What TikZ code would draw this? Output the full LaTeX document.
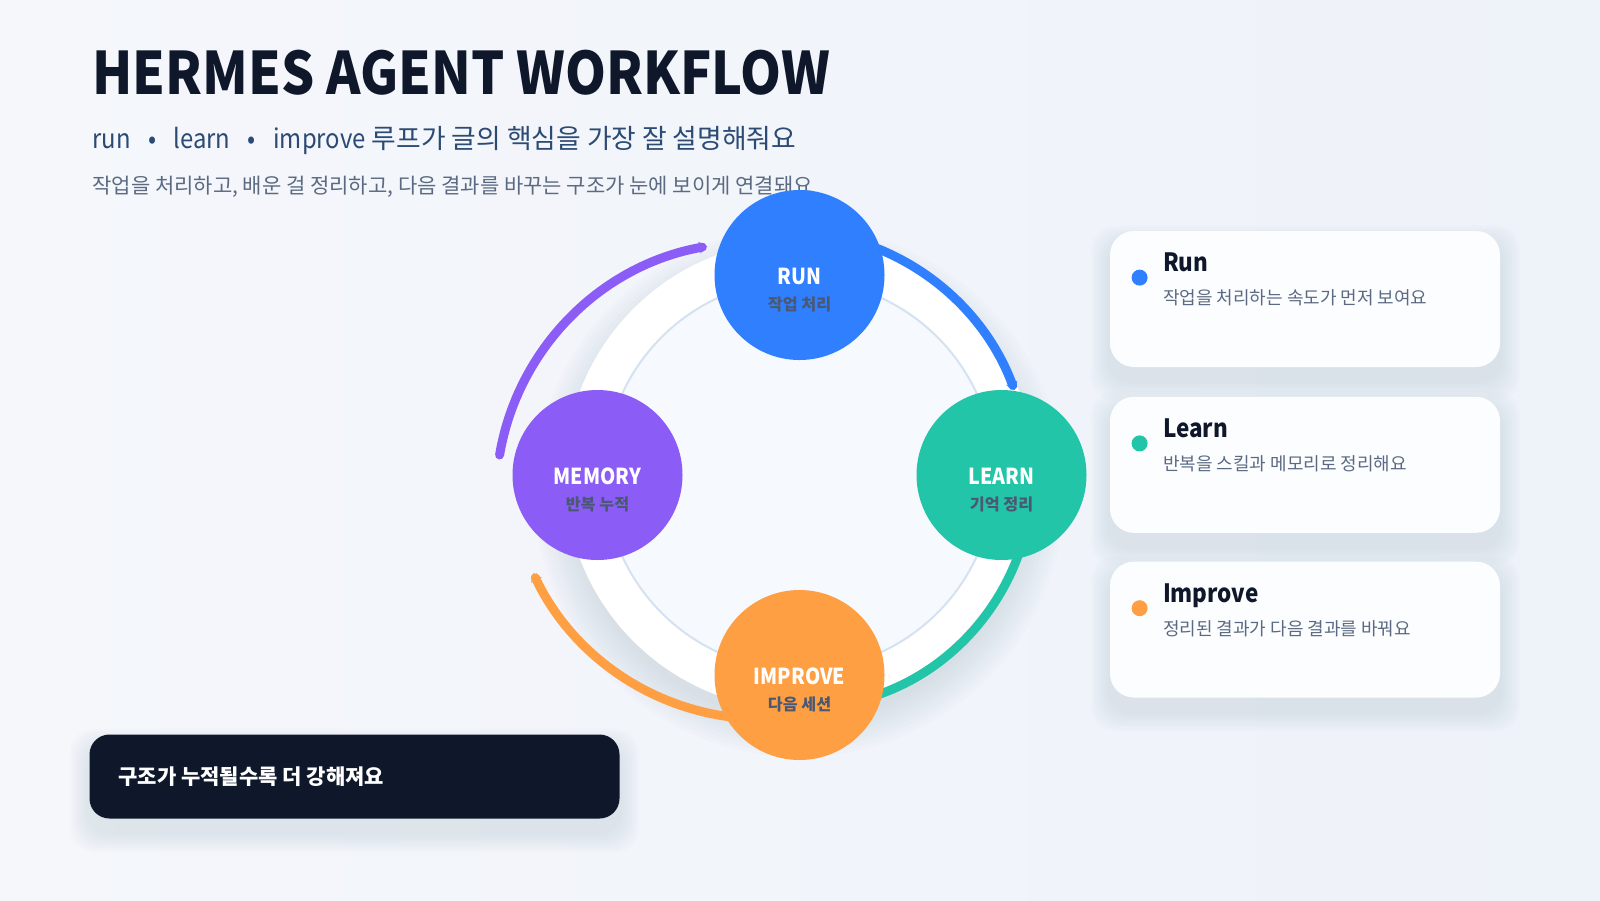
\documentclass[tikz,border=0pt]{standalone}
\usepackage{fontspec}
\setmainfont{Noto Sans CJK KR}
\newfontfamily\wlatin{Noto Sans CJK KR}[FakeStretch=0.89]
\usepackage{tikz}
\usetikzlibrary{arrows.meta,positioning,calc,backgrounds}
\pgfdeclarelayer{page}
\pgfsetlayers{page,background,main}
\definecolor{pagebg}{HTML}{F5F7FB}
\definecolor{pagebgr}{HTML}{EEF2F9}
\definecolor{inkdark}{HTML}{0F172A}
\definecolor{inksub}{HTML}{2B4A74}
\definecolor{inkmuted}{HTML}{5B6A82}
\definecolor{inklabel}{HTML}{4A5872}
\definecolor{runblue}{HTML}{2F7FFF}
\definecolor{learngreen}{HTML}{22C5A8}
\definecolor{improveorange}{HTML}{FF9F43}
\definecolor{memorypurple}{HTML}{8B5CF6}
\definecolor{ringline}{HTML}{D5E2F1}
\definecolor{innerfill}{HTML}{F6F9FE}
\definecolor{shadowink}{HTML}{7B8BA8}
\definecolor{cardfill}{HTML}{FCFDFF}
\newcommand{\wsep}{\hspace{0.65em}}
\tikzset{
  % ---- heading --------------------------------------------------------
  wtext/.style={inner sep=0pt, anchor=base west},
  wheading/.style={wtext, font=\wlatin\bfseries\fontsize{29.3}{35}\selectfont, text=inkdark},
  wtagline/.style={wtext, font=\fontsize{13.4}{16}\selectfont, text=inksub},
  wlede/.style={wtext, font=\fontsize{10.5}{13}\selectfont, text=inkmuted},
  % ---- loop stages ----------------------------------------------------
  wstage/.style={circle, minimum size=85pt, inner sep=0pt},
  wname/.style={inner sep=0pt, anchor=base, text=white,
    font=\wlatin\bfseries\fontsize{11}{13}\selectfont},
  wsub/.style={inner sep=0pt, anchor=base, text=inklabel,
    font=\bfseries\fontsize{8.1}{10}\selectfont},
  warc/.style={line width=4.5pt, line cap=round,
    -{Stealth[length=4pt,width=6pt]}},
  % ---- side cards -----------------------------------------------------
  wcard/.style={rounded corners=12pt, fill=cardfill, inner sep=0pt,
    minimum width=195pt, minimum height=68pt},
  wdot/.style={circle, minimum size=8pt, inner sep=0pt},
  wtitle/.style={wtext, font=\wlatin\bfseries\fontsize{12.6}{15}\selectfont, text=inkdark},
  wdesc/.style={wtext, font=\fontsize{9}{11}\selectfont, text=inkmuted},
  % ---- footer note ----------------------------------------------------
  wnote/.style={rounded corners=10pt, fill=inkdark, inner sep=0pt,
    minimum width=265pt, minimum height=42pt},
  wnotetext/.style={inner sep=0pt, anchor=west, text=white,
    font=\bfseries\fontsize{10.5}{13}\selectfont},
}
\begin{document}
\begin{tikzpicture}[x=0.5pt, y=-0.5pt]

% ---- page -------------------------------------------------------------
\begin{pgfonlayer}{page}
  \shade[left color=pagebg, right color=pagebgr] (0,0) rectangle (1600,900);
\end{pgfonlayer}
\useasboundingbox (0,0) rectangle (1600,900);

% ---- heading ----------------------------------------------------------
\node[wheading] (title) at (92,94) {HERMES AGENT WORKFLOW};
\node[wtagline] (tagline) at (92,148)
  {{\wlatin run\wsep•\wsep learn\wsep•\wsep improve} 루프가 글의 핵심을 가장 잘 설명해줘요};
\node[wlede] (lede) at (92,193)
  {작업을 처리하고, 배운 걸 정리하고, 다음 결과를 바꾸는 구조가 눈에 보이게 연결돼요};

% ---- ring -------------------------------------------------------------
\coordinate (hub) at (799.5,475);
\fill[white] (hub) circle[radius=235];
\filldraw[fill=innerfill, draw=ringline, line width=1pt] (hub) circle[radius=195];

% ---- arcs between stages ---------------------------------------------
\coordinate (runout)     at ($(787,473)+(-72:242)$);
\coordinate (learnout)   at ($(hub)+(18:233)$);
\coordinate (improveout) at ($(763,465)+(95:254)$);
\coordinate (memoryout)  at ($(751,497.5)+(-170.4:255)$);

\draw[warc, runblue]       (runout)     arc[start angle=-72, end angle=-20, radius=242];
\draw[warc, learngreen]    (learnout)   arc[start angle=18, end angle=75, radius=233];
\draw[warc, improveorange] (improveout) arc[start angle=95, end angle=154.8, radius=254];
\draw[warc, memorypurple]  (memoryout)  arc[start angle=-170.4, end angle=-99.9, radius=255];

% ---- stages -----------------------------------------------------------
\node[wstage, fill=runblue]       (run)     at (799.5,275) {};
\node[wstage, fill=learngreen]    (learn)   at (1001.5,475) {};
\node[wstage, fill=improveorange] (improve) at (799.5,675) {};
\node[wstage, fill=memorypurple]  (memory)  at (597.5,475) {};

\node[wname] (runname)     at ([yshift=-4.5pt]run.center) {RUN};
\node[wsub]  (runsub)      at ([yshift=-17.5pt]run.center) {작업 처리};
\node[wname] (learnname)   at ([yshift=-4.5pt]learn.center) {LEARN};
\node[wsub]  (learnsub)    at ([yshift=-17.5pt]learn.center) {기억 정리};
\node[wname] (improvename) at ([yshift=-4.5pt]improve.center) {IMPROVE};
\node[wsub]  (improvesub)  at ([yshift=-17.5pt]improve.center) {다음 세션};
\node[wname] (memoryname)  at ([yshift=-4.5pt]memory.center) {MEMORY};
\node[wsub]  (memorysub)   at ([yshift=-17.5pt]memory.center) {반복 누적};

% ---- side cards -------------------------------------------------------
\node[wcard] (runcard) at (1305,299) {};
\node[wcard, below=14.5pt of runcard] (learncard) {};
\node[wcard, below=14pt of learncard] (improvecard) {};

\node[wdot, fill=runblue] (rundot) at ([xshift=15pt, yshift=-23.5pt]runcard.north west) {};
\node[wtitle] (runtitle) at ([xshift=26.5pt, yshift=-20.5pt]runcard.north west) {Run};
\node[wdesc]  (rundesc)  at ([xshift=26.5pt, yshift=-37pt]runcard.north west)
  {작업을 처리하는 속도가 먼저 보여요};

\node[wdot, fill=learngreen] (learndot) at ([xshift=15pt, yshift=-23.5pt]learncard.north west) {};
\node[wtitle] (learntitle) at ([xshift=26.5pt, yshift=-20.5pt]learncard.north west) {Learn};
\node[wdesc]  (learndesc)  at ([xshift=26.5pt, yshift=-37pt]learncard.north west)
  {반복을 스킬과 메모리로 정리해요};

\node[wdot, fill=improveorange] (improvedot) at ([xshift=15pt, yshift=-23.5pt]improvecard.north west) {};
\node[wtitle] (improvetitle) at ([xshift=26.5pt, yshift=-20.5pt]improvecard.north west) {Improve};
\node[wdesc]  (improvedesc)  at ([xshift=26.5pt, yshift=-37pt]improvecard.north west)
  {정리된 결과가 다음 결과를 바꿔요};

% ---- footer note ------------------------------------------------------
\node[wnote] (note) at (354.5,776.5) {};
\node[wnotetext] (notetext) at ([xshift=14.5pt]note.west) {구조가 누적될수록 더 강해져요};

% ---- soft shadows -----------------------------------------------------
\begin{scope}[on background layer]
  \foreach \k in {1,...,10}
    \fill[shadowink, opacity=0.02] ($(hub)+(0,17)$) circle[radius=225+4*\k];
  \foreach \c in {runcard,learncard,improvecard,note} {
    \foreach \k in {1,...,8}
      \fill[shadowink, opacity=0.02, rounded corners=12pt]
        ([xshift=-1.2*\k pt, yshift=1.2*\k pt-7pt]\c.north west) rectangle
        ([xshift=1.2*\k pt, yshift=-1.2*\k pt-7pt]\c.south east);
  }
\end{scope}

\end{tikzpicture}
\end{document}
